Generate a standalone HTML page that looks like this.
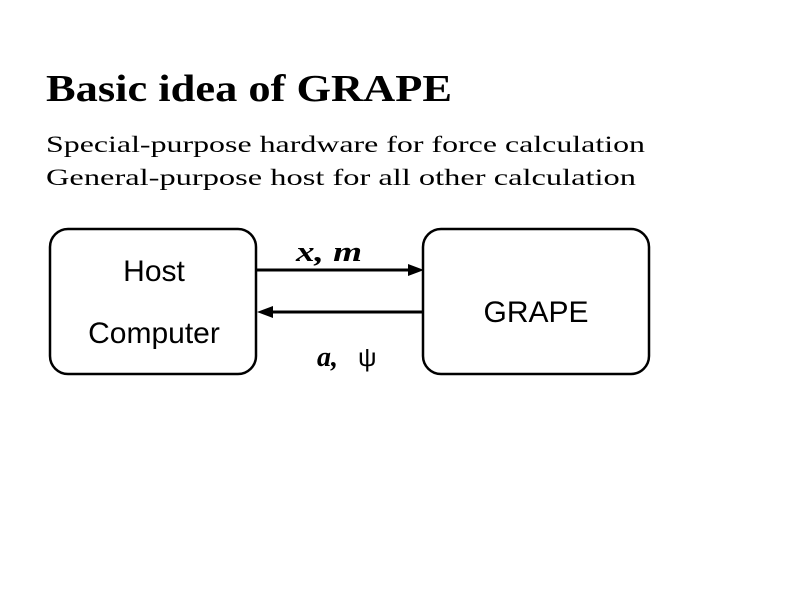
<!DOCTYPE html>
<html><head><style>
body{margin:0;width:800px;height:600px;background:#fff;overflow:hidden;position:relative;}
</style></head><body>
<svg width="800" height="600" style="position:absolute;left:0;top:0">
<g font-family="Liberation Serif, serif">
<text x="46" y="101" font-size="38" font-weight="bold" textLength="406" lengthAdjust="spacingAndGlyphs">Basic idea of GRAPE</text>
<text x="46" y="152" font-size="23" textLength="599" lengthAdjust="spacingAndGlyphs">Special-purpose hardware for force calculation</text>
<text x="46" y="185" font-size="23" textLength="590" lengthAdjust="spacingAndGlyphs">General-purpose host for all other calculation</text>
</g>
<rect x="50" y="229" width="206" height="145" rx="18" fill="none" stroke="#000" stroke-width="2.5"/>
<rect x="423" y="229" width="226" height="145" rx="18" fill="none" stroke="#000" stroke-width="2.5"/>
<line x1="257" y1="270" x2="410" y2="270" stroke="#000" stroke-width="3"/>
<polygon points="424,270 408,264 408,276" fill="#000"/>
<line x1="270" y1="312" x2="422" y2="312" stroke="#000" stroke-width="3"/>
<polygon points="257,312 273,306 273,318" fill="#000"/>
<g font-family="Liberation Sans, sans-serif" font-size="30" text-anchor="middle">
<text x="154" y="281">Host</text>
<text x="154" y="343">Computer</text>
<text x="536" y="322">GRAPE</text>
</g>
<g font-family="Liberation Serif, serif" font-size="28" font-weight="bold" font-style="italic">
<text x="296" y="261" textLength="66" lengthAdjust="spacingAndGlyphs">x, m</text>
<text x="317" y="366">a,</text>
</g>
<text x="358" y="366" font-family="Liberation Sans, sans-serif" font-size="26">ψ</text>
</svg>
</body></html>
